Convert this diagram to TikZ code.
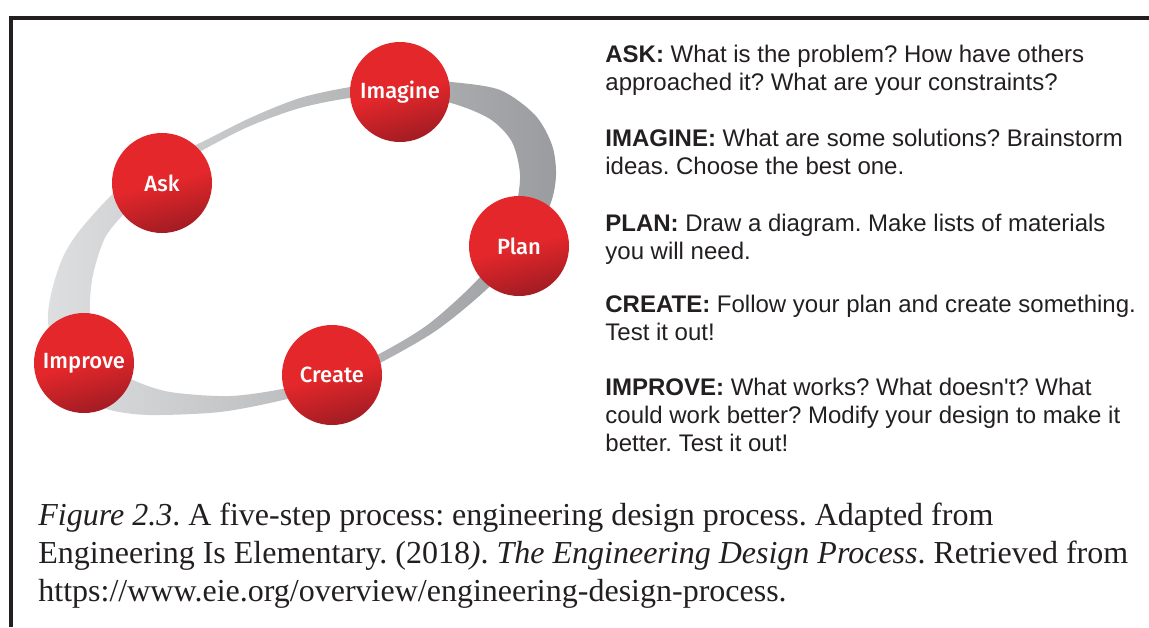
\documentclass[tikz,border=0pt]{standalone}
\usepackage{fontspec}
\setmainfont{Liberation Serif}
\newfontfamily\bodyfont{Liberation Sans}
\newfontfamily\stepfont{Fira Sans Medium}
\usepackage{tikz}
\frenchspacing
\pgfdeclarelayer{edgelayer}
\pgfdeclarelayer{nodelayer}
\pgfsetlayers{edgelayer,nodelayer,main}
\definecolor{circtop}{HTML}{E3272B}
\definecolor{circbot}{HTML}{A21C23}
\definecolor{ringlight}{HTML}{DDDEDF}
\definecolor{ringdark}{HTML}{9A9C9F}
\definecolor{inkgray}{HTML}{231F20}
\tikzstyle{none} = []
\tikzstyle{stepnode} = [circle, minimum size=50pt, inner sep=0pt, top color=circtop, bottom color=circbot, middle color=circtop, shading angle=15, text=white, font=\stepfont\fontsize{11}{13}\selectfont]
\tikzstyle{bodytext} = [anchor=north west, inner sep=0pt, align=left, text=inkgray, font=\bodyfont\fontsize{12}{13.85}\selectfont]
\tikzstyle{captext} = [anchor=north west, inner sep=0pt, align=left, text=inkgray, font=\fontsize{16}{19}\selectfont]

\begin{document}
\begin{tikzpicture}[x=0.5pt, y=-0.5pt]
	\useasboundingbox (0, 0) rectangle (1149, 627);
	\begin{pgfonlayer}{nodelayer}
		\node [style=stepnode] (0) at (162, 183) {Ask};
		\node [style=stepnode] (1) at (400, 92) {Imagine};
		\node [style=stepnode] (2) at (519, 246) {Plan};
		\node [style=stepnode] (3) at (332, 375) {Create};
		\node [style=stepnode] (4) at (84, 363) {Improve};
		\node [style=bodytext] (5) at (605, 45) {\textbf{ASK:} What is the problem? How have others\\approached it? What are your constraints?};
		\node [style=bodytext] (6) at (605, 129) {\textbf{IMAGINE:} What are some solutions? Brainstorm\\ideas. Choose the best one.};
		\node [style=bodytext] (7) at (605, 214) {\textbf{PLAN:} Draw a diagram. Make lists of materials\\you will need.};
		\node [style=bodytext] (8) at (605, 295) {\textbf{CREATE:} Follow your plan and create something.\\Test it out!};
		\node [style=bodytext] (9) at (605, 378) {\textbf{IMPROVE:} What works? What doesn't? What\\could work better? Modify your design to make it\\better. Test it out!};
		\node [style=captext] (10) at (38, 503) {\textit{Figure 2.3}. A five-step process: engineering design process. Adapted from\\Engineering Is Elementary. (2018\textit{)}. \textit{The Engineering Design Process}. Retrieved from\\https://www.eie.org/overview/engineering-design-process.};
	\end{pgfonlayer}
	\begin{pgfonlayer}{edgelayer}
		% tilted ring behind the steps
		\shade [even odd rule, left color=ringlight, right color=ringdark]
			plot [smooth cycle] coordinates {(48,320) (52,290) (63,257) (80,230) (115,192) (155,164) (200,143) (250,118) (300,98) (350,87) (400,80) (451,82) (500,90) (535,115) (552,145) (556,175) (550,205) (528,243) (488,288) (437,330) (382,362) (335,385) (283,400) (220,412) (150,415) (110,410) (75,395) (55,365)}
			plot [smooth cycle] coordinates {(90,310) (92,280) (100,250) (110,230) (140,197) (172,170) (203,150) (250,126) (300,108) (350,98) (400,95) (451,103) (490,119) (512,142) (520,175) (515,210) (500,243) (480,277) (430,323) (381,353) (335,374) (287,388) (230,396) (170,392) (133,380) (110,365) (95,340)};
		\draw [line width=2pt, inkgray] (11, 627) -- (11, 18) -- (1149, 18);
	\end{pgfonlayer}
\end{tikzpicture}
\end{document}
